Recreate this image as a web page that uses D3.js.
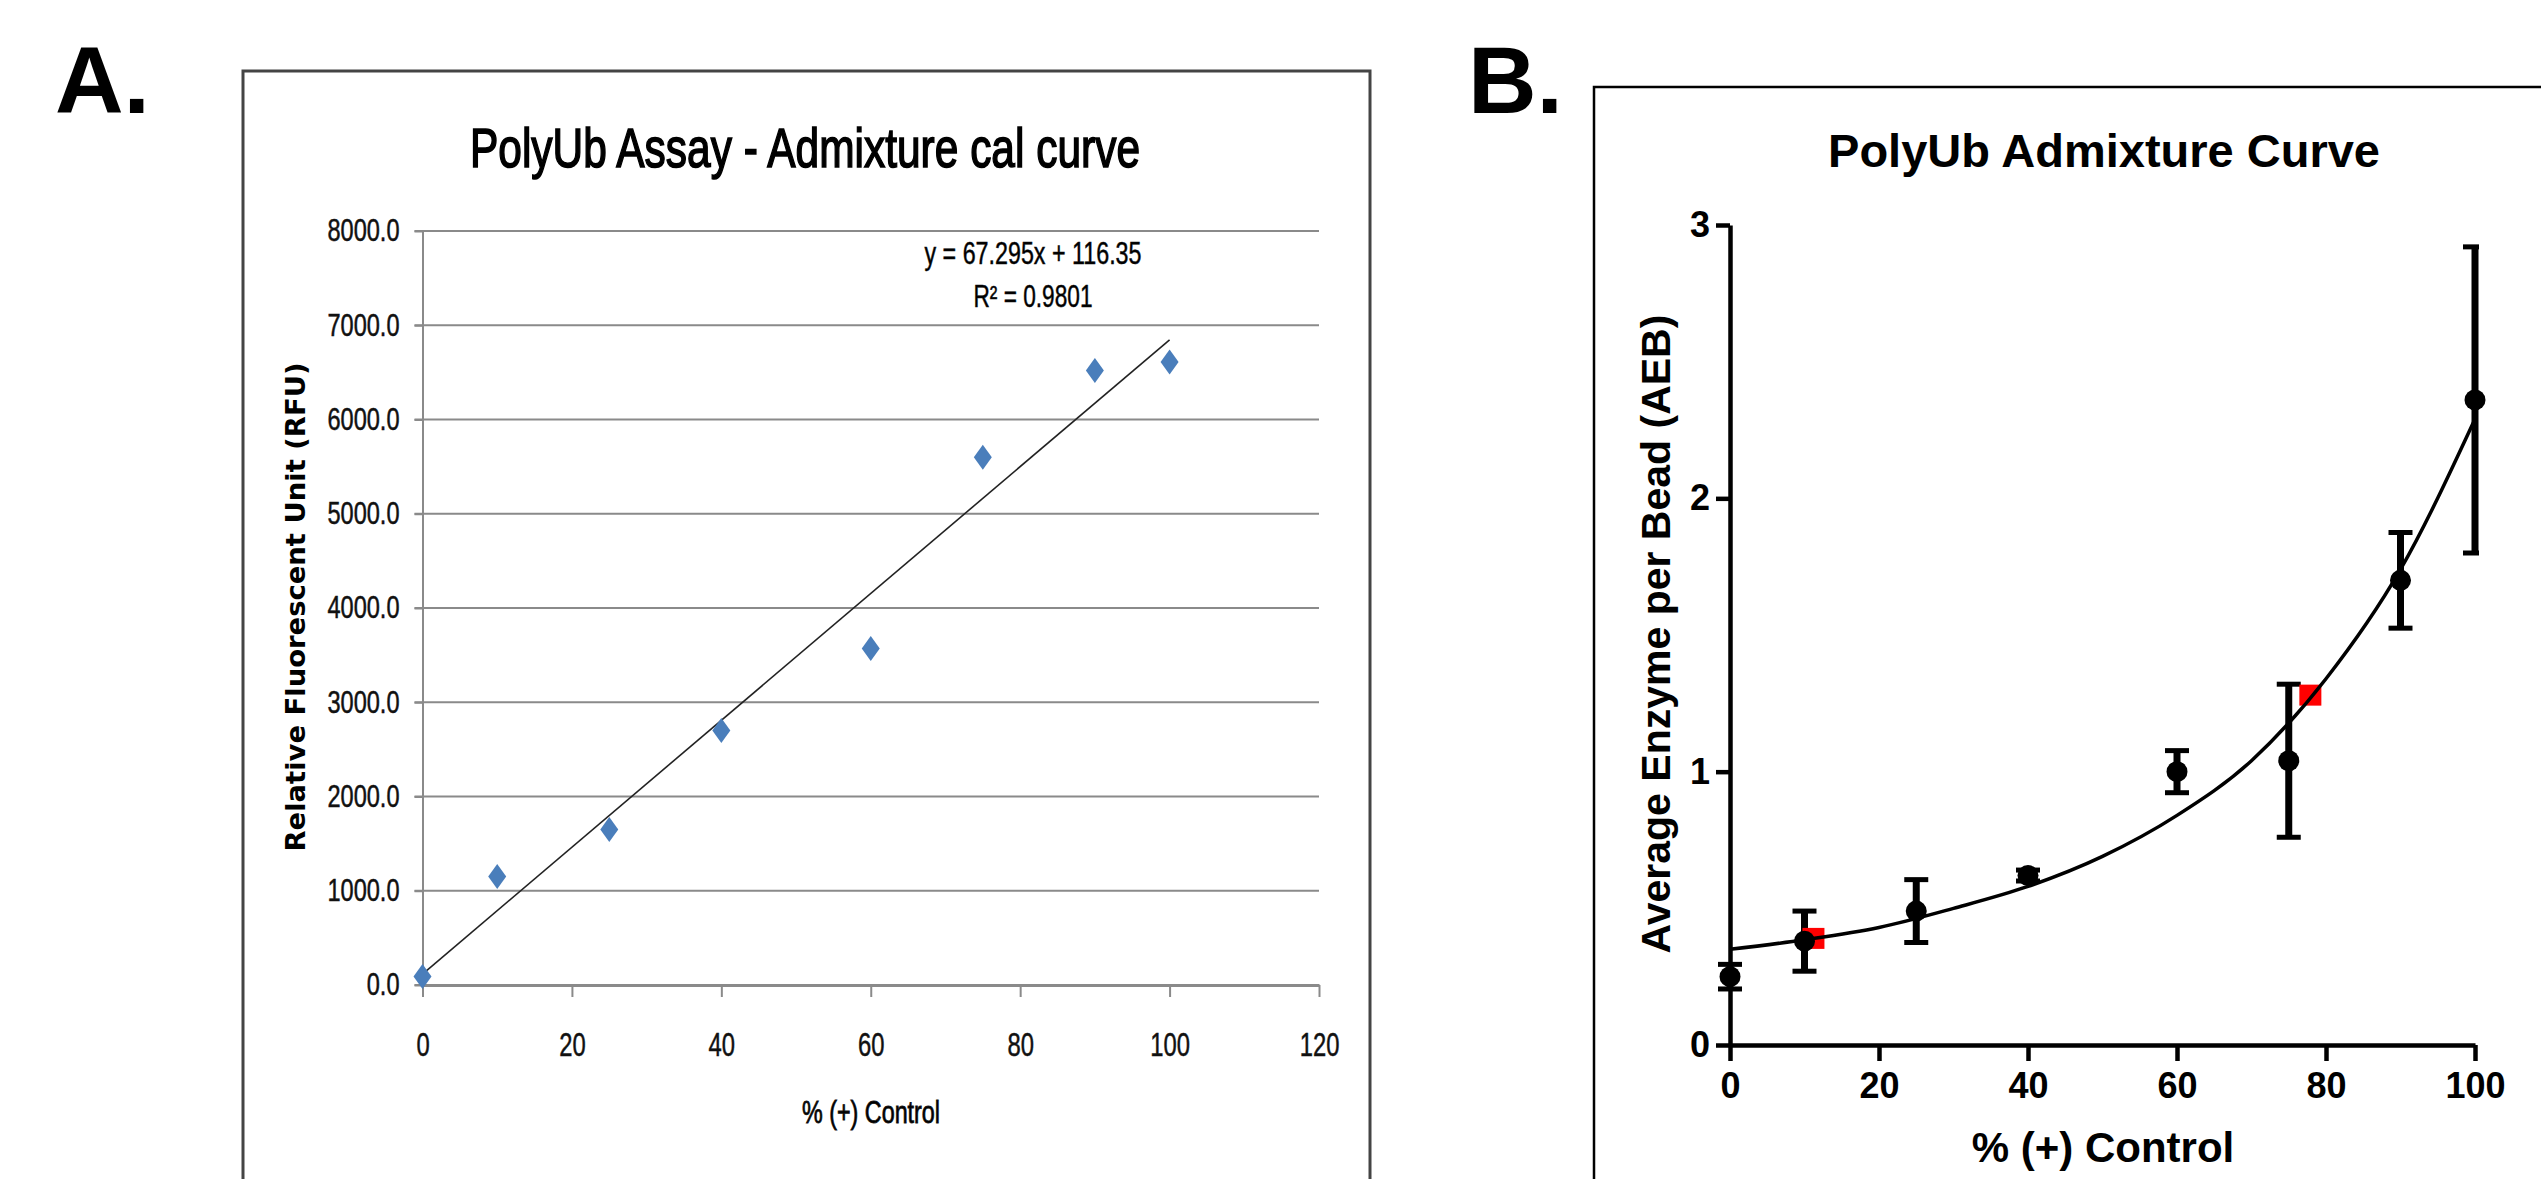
<!DOCTYPE html>
<html>
<head>
<meta charset="utf-8">
<script src="https://cdn.jsdelivr.net/npm/d3@7"></script>
<style>
  body { margin: 0; background: #fff; }
  svg { display: block; }
</style>
</head>
<body>
<svg id="chart"></svg>
<script>
// ---- panel A : Excel calibration curve ----
let pctA = [0, 10, 25, 40, 60, 75, 90, 100];
let rfu = [90, 1150, 1650, 2700, 3570, 5600, 6520, 6610];
let rfuTicks = [0, 1000, 2000, 3000, 4000, 5000, 6000, 7000, 8000];
let pctTicksA = [0, 20, 40, 60, 80, 100, 120];
let trendSlope = 67.295,
    trendIntercept = 116.35,
    trendR2 = 0.9801;

// ---- panel B : admixture curve (mean +/- error) ----
let pctB = [0, 10, 25, 40, 60, 75, 90, 100];
let aeb = [0.25, 0.38, 0.49, 0.62, 1.00, 1.04, 1.70, 2.36];
let aebErr = [0.045, 0.11, 0.115, 0.02, 0.077, 0.28, 0.175, 0.56];
let samplePct = [11.2, 77.9];
let sampleAeb = [0.39, 1.28];
let fitPct = [0, 10, 20, 30, 40, 50, 60, 70, 80, 90, 100];
let fitAeb = [0.35, 0.385, 0.43, 0.50, 0.58, 0.69, 0.84, 1.04, 1.34, 1.74, 2.29];
let aebTicks = [0, 1, 2, 3];
let pctTicksB = [0, 20, 40, 60, 80, 100];

let svgWidth = 2541,
    svgHeight = 1179;

let svg = d3.select('#chart')
            .attr('width', svgWidth)
            .attr('height', svgHeight)
            .style('background', '#fff');

let arial = "'Liberation Sans', Arial, sans-serif";

// squeeze text horizontally (panel A uses a narrow Calibri-like face)
function squeeze(sel, k) {
  sel.each(function () {
    this.setAttribute('textLength', this.getComputedTextLength() * k);
    this.setAttribute('lengthAdjust', 'spacingAndGlyphs');
  });
}

// panel letters
svg.append('text').attr('x', 55).attr('y', 113)
   .attr('font-family', arial).attr('font-weight', 'bold').attr('font-size', 95)
   .text('A.');
svg.append('text').attr('x', 1468).attr('y', 113)
   .attr('font-family', arial).attr('font-weight', 'bold').attr('font-size', 95)
   .text('B.');

// ================= PANEL A =================
let gA = svg.append('g');

gA.append('rect')
  .attr('x', 243).attr('y', 71)
  .attr('width', 1127).attr('height', 1200)
  .attr('fill', '#fff')
  .attr('stroke', '#444')
  .attr('stroke-width', 3);

let xA = d3.scaleLinear().domain([0, 120]).range([422.5, 1319]);
let yA = d3.scaleLinear().domain([0, 8000]).range([985, 231]);

// gridlines
gA.append('g')
  .selectAll('line')
  .data(rfuTicks)
  .join('line')
  .attr('x1', xA(0) - 8)
  .attr('x2', xA(120))
  .attr('y1', d => yA(d))
  .attr('y2', d => yA(d))
  .attr('stroke', '#8a8a8a')
  .attr('stroke-width', 2);

// y axis
let yAxisA = gA.append('g')
  .attr('transform', `translate(${xA(0)},0)`)
  .call(d3.axisLeft(yA).tickValues(rfuTicks).tickFormat(d3.format('.1f'))
          .tickSize(8).tickSizeOuter(0).tickPadding(15));
yAxisA.select('.domain').attr('stroke', '#8a8a8a').attr('stroke-width', 2);
yAxisA.selectAll('.tick line').attr('stroke', '#8a8a8a').attr('stroke-width', 2);
yAxisA.selectAll('.tick text')
  .attr('font-family', arial).attr('font-size', 31).attr('fill', '#111')
  .attr('stroke', '#111').attr('stroke-width', 0.5)
  .call(squeeze, 0.76);

// x axis
let xAxisA = gA.append('g')
  .attr('transform', `translate(0,${yA(0)})`)
  .call(d3.axisBottom(xA).tickValues(pctTicksA).tickSize(12).tickSizeOuter(0).tickPadding(35));
xAxisA.select('.domain').attr('stroke', '#8a8a8a').attr('stroke-width', 3);
xAxisA.selectAll('.tick line').attr('stroke', '#8a8a8a').attr('stroke-width', 2);
xAxisA.selectAll('.tick text')
  .attr('font-family', arial).attr('font-size', 34).attr('fill', '#111')
  .attr('stroke', '#111').attr('stroke-width', 0.5)
  .call(squeeze, 0.7);

// trendline from the equation
gA.append('line')
  .attr('x1', xA(0))
  .attr('y1', yA(trendIntercept))
  .attr('x2', xA(100))
  .attr('y2', yA(trendSlope * 100 + trendIntercept))
  .attr('stroke', '#222')
  .attr('stroke-width', 1.6);

// diamond markers
gA.append('g')
  .selectAll('path')
  .data(pctA.map((d, i) => [d, rfu[i]]))
  .join('path')
  .attr('transform', d => `translate(${xA(d[0])},${yA(d[1])})`)
  .attr('d', 'M0,-12.5 L9,0 L0,12.5 L-9,0 Z')
  .attr('fill', '#4a7ebb');

// equation label
gA.append('text')
  .attr('x', 1033).attr('y', 264)
  .attr('text-anchor', 'middle')
  .attr('font-family', arial).attr('font-size', 31)
  .attr('stroke', '#111').attr('stroke-width', 0.5)
  .attr('textLength', 217).attr('lengthAdjust', 'spacingAndGlyphs')
  .text(`y = ${trendSlope}x + ${trendIntercept}`);
gA.append('text')
  .attr('x', 1033).attr('y', 307)
  .attr('text-anchor', 'middle')
  .attr('font-family', arial).attr('font-size', 31)
  .attr('stroke', '#111').attr('stroke-width', 0.5)
  .attr('textLength', 119).attr('lengthAdjust', 'spacingAndGlyphs')
  .text(`R² = ${trendR2}`);

// titles
gA.append('text')
  .attr('x', 805).attr('y', 167)
  .attr('text-anchor', 'middle')
  .attr('font-family', arial).attr('font-size', 56)
  .attr('stroke', '#000').attr('stroke-width', 1.6)
  .attr('textLength', 670).attr('lengthAdjust', 'spacingAndGlyphs')
  .text('PolyUb Assay - Admixture cal curve');

gA.append('text')
  .attr('x', 871).attr('y', 1123)
  .attr('text-anchor', 'middle')
  .attr('font-family', arial).attr('font-size', 31)
  .attr('stroke', '#111').attr('stroke-width', 0.8)
  .attr('textLength', 138).attr('lengthAdjust', 'spacingAndGlyphs')
  .text('% (+) Control');

gA.append('text')
  .attr('transform', 'translate(305,607) rotate(-90)')
  .attr('text-anchor', 'middle')
  .attr('font-family', "'DejaVu Sans', Verdana, sans-serif")
  .attr('font-weight', 'bold').attr('font-size', 26)
  .attr('textLength', 489).attr('lengthAdjust', 'spacingAndGlyphs')
  .text('Relative Fluorescent Unit (RFU)');

// ================= PANEL B =================
let gB = svg.append('g');

gB.append('rect')
  .attr('x', 1594).attr('y', 87)
  .attr('width', 1100).attr('height', 1200)
  .attr('fill', '#fff')
  .attr('stroke', '#000')
  .attr('stroke-width', 2.5);

let xB = d3.scaleLinear().domain([0, 100]).range([1730, 2475]);
let yB = d3.scaleLinear().domain([0, 3]).range([1045, 225]);

let yAxisB = gB.append('g')
  .attr('transform', `translate(${xB(0)},0)`)
  .call(d3.axisLeft(yB).tickValues(aebTicks).tickFormat(d3.format('d'))
          .tickSize(14).tickSizeOuter(0).tickPadding(6));
let xAxisB = gB.append('g')
  .attr('transform', `translate(0,${yB(0)})`)
  .call(d3.axisBottom(xB).tickValues(pctTicksB).tickSize(16).tickSizeOuter(0).tickPadding(11));

[yAxisB, xAxisB].forEach(ax => {
  ax.select('.domain').attr('stroke', '#000').attr('stroke-width', 4.5);
  ax.selectAll('.tick line').attr('stroke', '#000').attr('stroke-width', 4.5);
  ax.selectAll('.tick text')
    .attr('font-family', arial).attr('font-weight', 'bold')
    .attr('font-size', 36).attr('fill', '#000');
});

// clip so the cap at 100 only shows its left half
gB.append('clipPath').attr('id', 'clipB')
  .append('rect')
  .attr('x', xB(0) - 30).attr('y', 0)
  .attr('width', xB(100) - xB(0) + 34).attr('height', svgHeight);

let pointsB = pctB.map((d, i) => ({ x: d, y: aeb[i], e: aebErr[i] }));

let errG = gB.append('g').attr('stroke', '#000');
errG.selectAll('line.bar')
  .data(pointsB)
  .join('line')
  .attr('class', 'bar')
  .attr('x1', d => xB(d.x)).attr('x2', d => xB(d.x))
  .attr('y1', d => yB(d.y - d.e)).attr('y2', d => yB(d.y + d.e))
  .attr('stroke-width', 7);

let capG = errG.append('g').attr('clip-path', 'url(#clipB)');
['lo', 'hi'].forEach(side => {
  capG.selectAll('line.cap-' + side)
    .data(pointsB)
    .join('line')
    .attr('class', 'cap-' + side)
    .attr('x1', d => xB(d.x) - 12).attr('x2', d => xB(d.x) + 12)
    .attr('y1', d => yB(side === 'lo' ? d.y - d.e : d.y + d.e))
    .attr('y2', d => yB(side === 'lo' ? d.y - d.e : d.y + d.e))
    .attr('stroke-width', 5);
});

// red sample squares
gB.append('g')
  .selectAll('rect')
  .data(samplePct.map((d, i) => [d, sampleAeb[i]]))
  .join('rect')
  .attr('x', d => xB(d[0]) - 11)
  .attr('y', d => yB(d[1]) - 10.5)
  .attr('width', 22).attr('height', 21)
  .attr('fill', '#ff0000');

// fitted curve
let fitLine = d3.line()
  .x(d => xB(d[0]))
  .y(d => yB(d[1]))
  .curve(d3.curveMonotoneX);

gB.append('path')
  .datum(fitPct.map((d, i) => [d, fitAeb[i]]))
  .attr('d', fitLine)
  .attr('fill', 'none')
  .attr('stroke', '#000')
  .attr('stroke-width', 3.5);

// mean markers
gB.append('g')
  .selectAll('circle')
  .data(pointsB)
  .join('circle')
  .attr('cx', d => xB(d.x))
  .attr('cy', d => yB(d.y))
  .attr('r', 10.5)
  .attr('fill', '#000');

// titles
gB.append('text')
  .attr('x', 2104).attr('y', 167)
  .attr('text-anchor', 'middle')
  .attr('font-family', arial).attr('font-weight', 'bold').attr('font-size', 47)
  .text('PolyUb Admixture Curve');

gB.append('text')
  .attr('x', 2103).attr('y', 1162)
  .attr('text-anchor', 'middle')
  .attr('font-family', arial).attr('font-weight', 'bold').attr('font-size', 42)
  .text('% (+) Control');

gB.append('text')
  .attr('transform', 'translate(1670,634) rotate(-90)')
  .attr('text-anchor', 'middle')
  .attr('font-family', arial).attr('font-weight', 'bold').attr('font-size', 41)
  .text('Average Enzyme per Bead (AEB)');
</script>
</body>
</html>
